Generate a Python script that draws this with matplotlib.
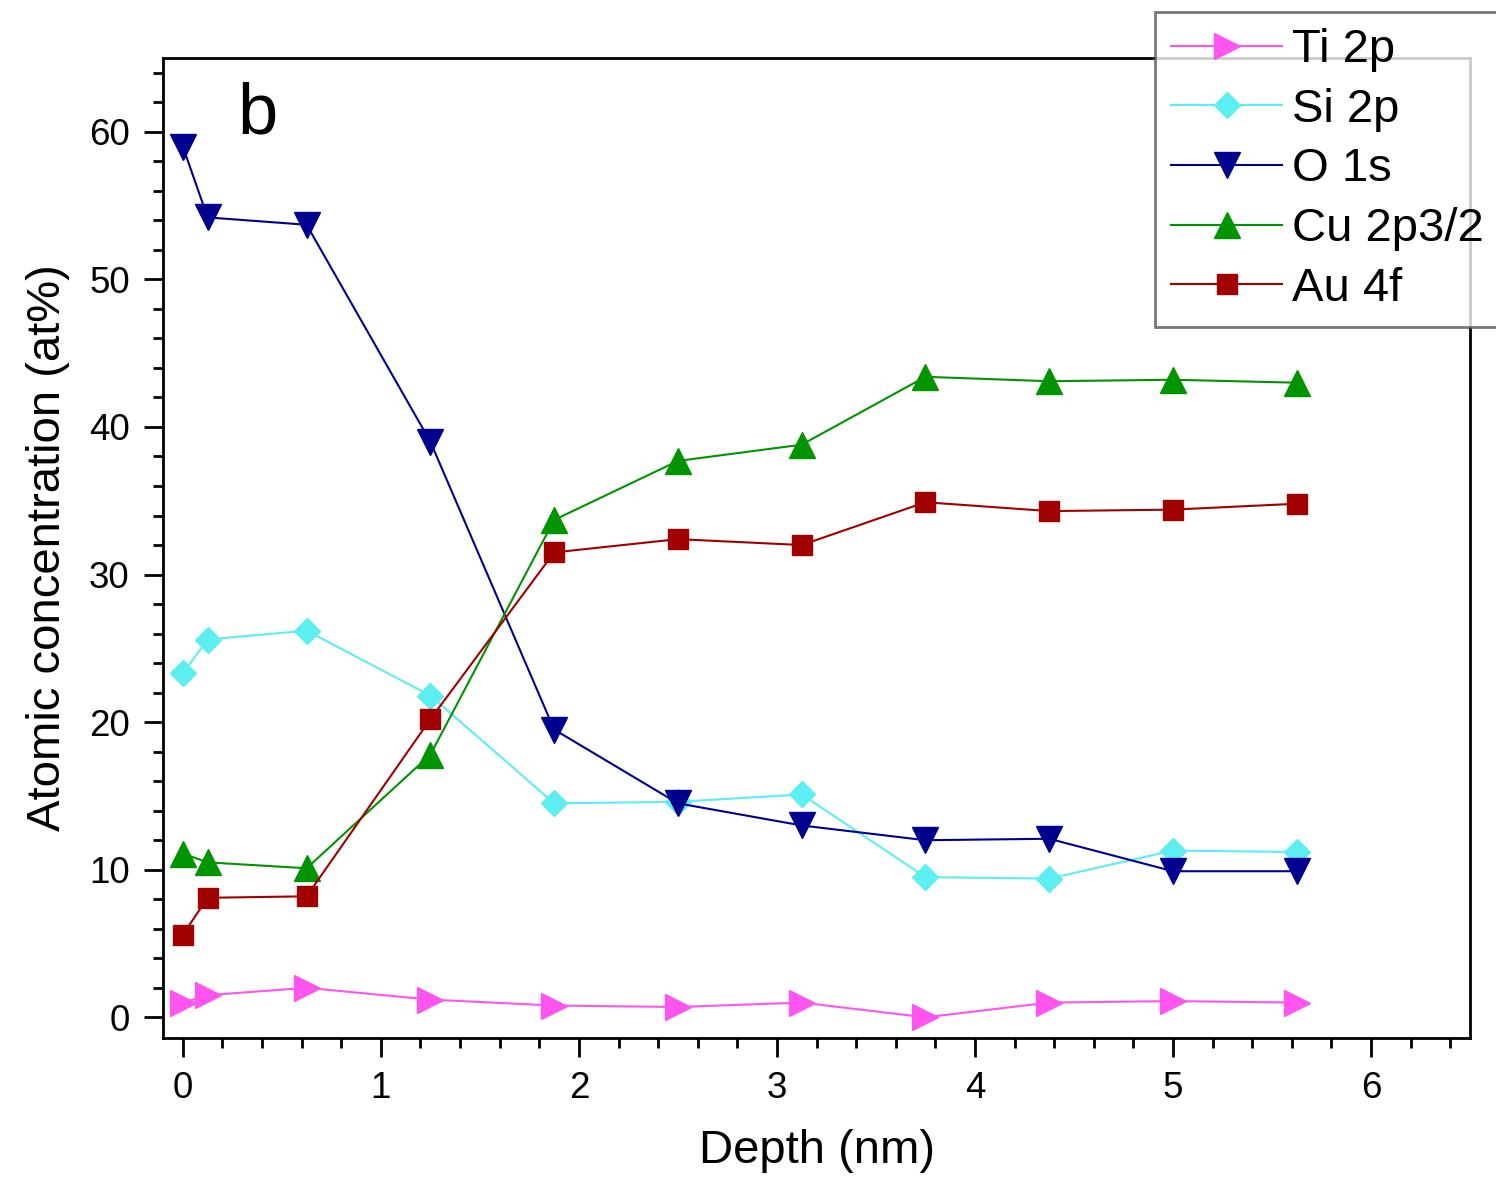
import numpy as np
import matplotlib
matplotlib.use("Agg")
import matplotlib.pyplot as plt
from matplotlib.ticker import MultipleLocator

plt.rcParams['font.family'] = ['Liberation Sans', 'DejaVu Sans']

# depth points (nm)
depth = [0, 0.125, 0.625, 1.25, 1.875, 2.5, 3.125, 3.75, 4.375, 5.0, 5.625]

# atomic concentration (at%)
ti_2p = [1.0, 1.5, 2.0, 1.2, 0.8, 0.7, 1.0, 0.0, 1.0, 1.1, 1.0]
si_2p = [23.3, 25.6, 26.2, 21.8, 14.5, 14.6, 15.1, 9.5, 9.4, 11.3, 11.2]
o_1s = [59.0, 54.2, 53.7, 39.0, 19.5, 14.5, 13.0, 12.0, 12.1, 9.9, 9.9]
cu_2p32 = [11.1, 10.5, 10.1, 17.8, 33.7, 37.7, 38.8, 43.4, 43.1, 43.2, 43.0]
au_4f = [5.6, 8.1, 8.2, 20.2, 31.5, 32.4, 32.0, 34.9, 34.3, 34.4, 34.8]

labels = ["Ti 2p", "Si 2p", "O 1s", "Cu 2p3/2", "Au 4f"]

fig = plt.figure(figsize=(14.96, 11.79), dpi=100)
ax = fig.add_axes([0.109, 0.1196, 0.8736, 0.8312])

ms = 19
lw = 1.5
ax.plot(depth, ti_2p, color='#FF55EE', marker='>', ms=ms, lw=lw, label=labels[0])
ax.plot(depth, si_2p, color='#5CEEF0', marker='D', ms=ms * 0.72, lw=lw, label=labels[1])
ax.plot(depth, o_1s, color='#00008F', marker='v', ms=ms, lw=lw, label=labels[2])
ax.plot(depth, cu_2p32, color='#009400', marker='^', ms=ms, lw=lw, label=labels[3])
ax.plot(depth, au_4f, color='#A00000', marker='s', ms=ms * 0.76, lw=lw, label=labels[4])

ax.set_xlim(-0.1, 6.5)
ax.set_ylim(-1.4, 65)
ax.xaxis.set_major_locator(MultipleLocator(1))
ax.xaxis.set_minor_locator(MultipleLocator(0.2))
ax.yaxis.set_major_locator(MultipleLocator(10))
ax.yaxis.set_minor_locator(MultipleLocator(2))
ax.tick_params(which='major', direction='out', length=14, width=2, labelsize=26.5, pad=10)
ax.tick_params(which='minor', direction='out', length=7.5, width=2)
for s in ax.spines.values():
    s.set_linewidth(2)

ax.set_xlabel("Depth (nm)", fontsize=34, labelpad=16)
ax.set_ylabel("Atomic concentration (at%)", fontsize=34, labelpad=14)

ax.text(0.277, 59.9, "b", fontsize=52, va='baseline', ha='left')

leg = fig.legend(loc='upper left', bbox_to_anchor=(0.772, 0.99), fontsize=34,
                 frameon=True, fancybox=False, edgecolor='#555555',
                 handlelength=2.35, labelspacing=0.33, borderpad=0.35,
                 handletextpad=0.2, borderaxespad=0)
leg.get_frame().set_linewidth(2)

fig.savefig("out.png", dpi=100)
